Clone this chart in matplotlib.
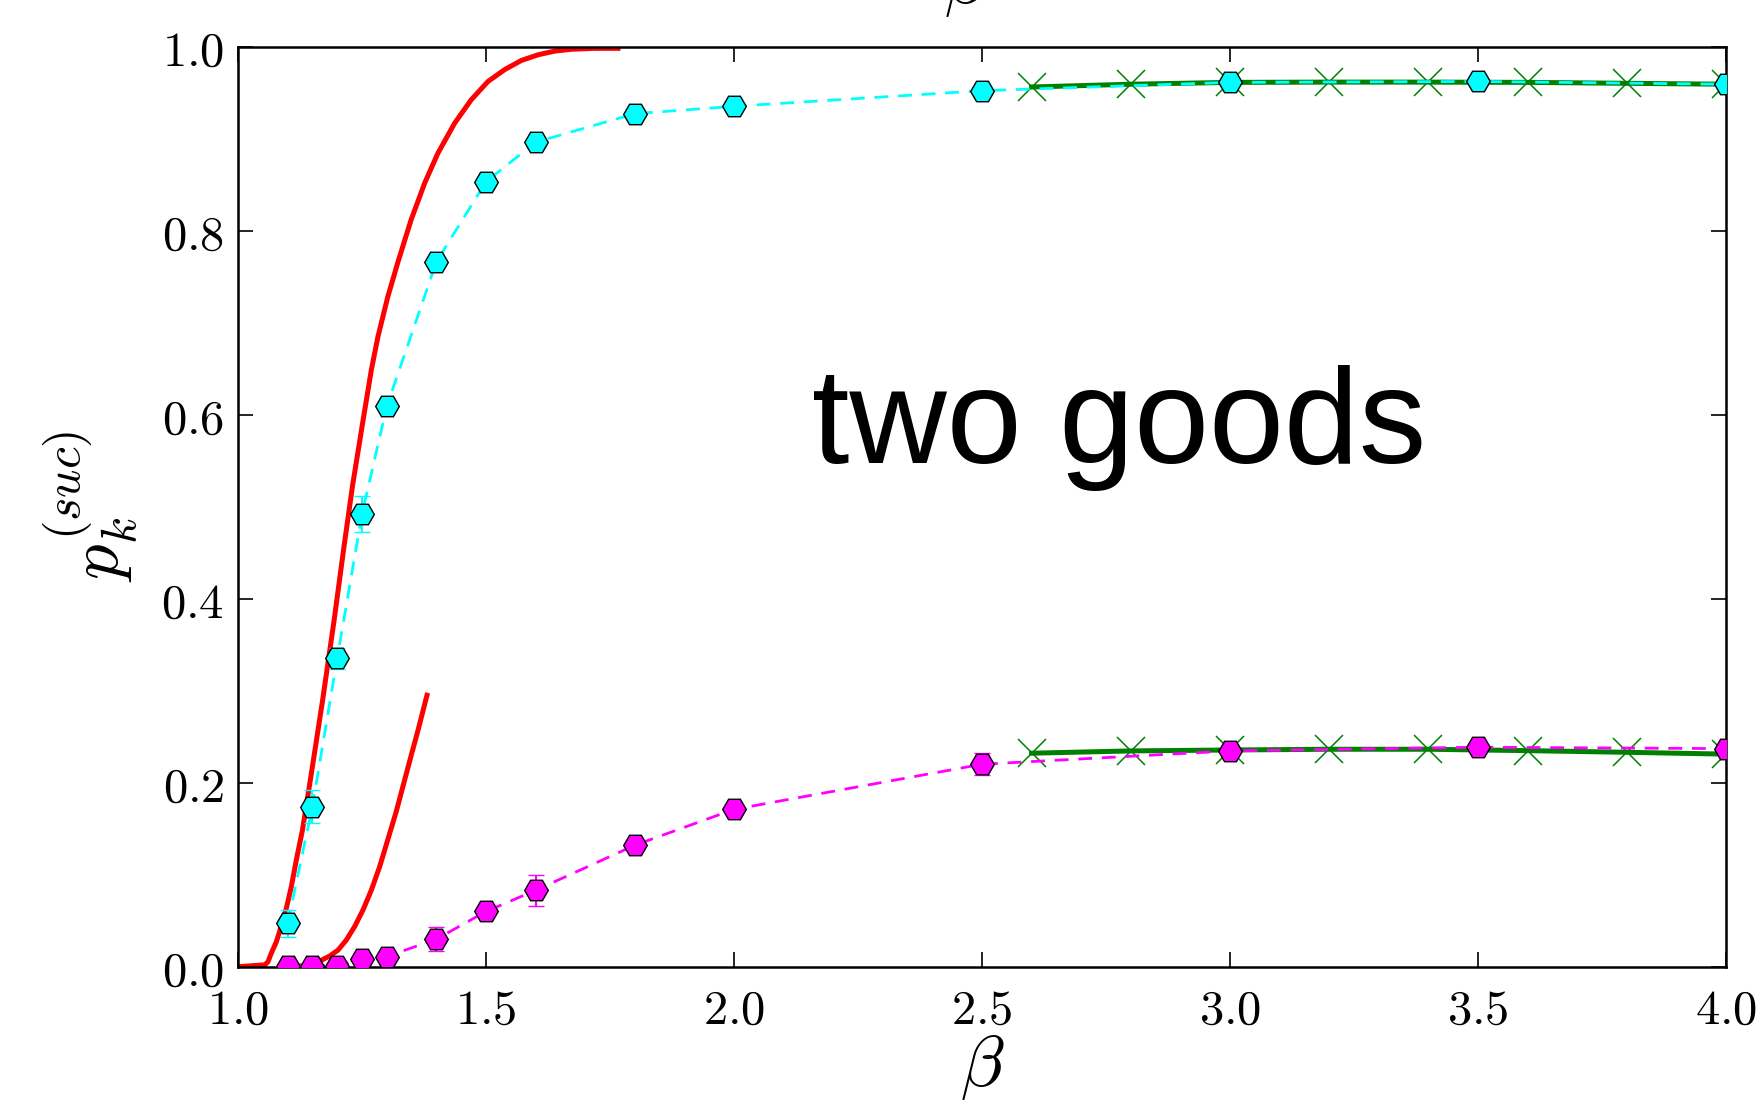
import matplotlib
matplotlib.use("Agg")
import matplotlib.pyplot as plt

plt.rcParams['mathtext.fontset'] = 'cm'
plt.rcParams['lines.scale_dashes'] = False

# ---------------- data ----------------
beta_sim = [1.1, 1.15, 1.2, 1.25, 1.3, 1.4, 1.5, 1.6, 1.8, 2.0, 2.5, 3.0, 3.5, 4.0]
p1_sim = [0.047, 0.174, 0.335, 0.492, 0.609, 0.766, 0.853, 0.896, 0.927, 0.935, 0.952, 0.961, 0.962, 0.959]
p1_err = [0.015, 0.018, 0.011, 0.020, 0.008, 0.006, 0.005, 0.004, 0.004, 0.004, 0.004, 0.003, 0.003, 0.003]
p2_sim = [0.001, 0.001, 0.001, 0.008, 0.011, 0.030, 0.060, 0.083, 0.132, 0.171, 0.220, 0.2345, 0.2385, 0.237]
p2_err = [0.002, 0.002, 0.002, 0.003, 0.004, 0.013, 0.006, 0.017, 0.006, 0.006, 0.012, 0.005, 0.005, 0.005]

beta_th = [2.6, 2.8, 3.0, 3.2, 3.4, 3.6, 3.8, 4.0]
p1_th = [0.956, 0.959, 0.961, 0.9613, 0.9613, 0.961, 0.960, 0.959]
p2_th = [0.232, 0.2345, 0.2355, 0.2363, 0.2363, 0.2348, 0.233, 0.231]

beta_red1 = [1.0, 1.054, 1.0605, 1.067, 1.0773, 1.087, 1.0974, 1.1075, 1.1176, 1.130, 1.149,
             1.1707, 1.1939, 1.2137, 1.231, 1.251, 1.269, 1.2823, 1.302, 1.3226, 1.349,
             1.3763, 1.403, 1.4368, 1.470, 1.504, 1.538, 1.5712, 1.605, 1.6385, 1.672,
             1.719, 1.766]
p_red1 = [0.0, 0.002, 0.0054, 0.0145, 0.027, 0.0435, 0.0635, 0.087, 0.116, 0.1486, 0.2138,
          0.290, 0.377, 0.4565, 0.523, 0.590, 0.649, 0.685, 0.728, 0.766, 0.8116,
          0.8515, 0.884, 0.9167, 0.942, 0.962, 0.975, 0.9848, 0.991, 0.995, 0.997,
          0.998, 0.998]
beta_red2 = [1.10, 1.13, 1.15, 1.168, 1.1848, 1.2016, 1.2184, 1.235, 1.252, 1.269, 1.2856,
             1.302, 1.319, 1.336, 1.3494, 1.363, 1.381]
p_red2 = [0.0, 0.001, 0.003, 0.007, 0.0116, 0.018, 0.029, 0.0435, 0.0616, 0.0834, 0.1087,
          0.138, 0.1685, 0.203, 0.230, 0.257, 0.295]

xticks = [1.0, 1.5, 2.0, 2.5, 3.0, 3.5, 4.0]
xticklabels = ['$1.0$', '$1.5$', '$2.0$', '$2.5$', '$3.0$', '$3.5$', '$4.0$']
yticks = [0.0, 0.2, 0.4, 0.6, 0.8, 1.0]
yticklabels = ['$0.0$', '$0.2$', '$0.4$', '$0.6$', '$0.8$', '$1.0$']

# ---------------- figure ----------------
fig = plt.figure(figsize=(17.57, 11.03), dpi=100)
ax = fig.add_axes([238/1757, 1 - 966.7/1103, (1726-238)/1757, (966.7-46.5)/1103])

ax.plot(beta_red1, p_red1, color='#ff0000', lw=3.6, zorder=2, solid_joinstyle='round')
ax.plot(beta_red2, p_red2, color='#ff0000', lw=3.6, zorder=2, solid_joinstyle='round')

for yy in (p1_th, p2_th):
    ax.plot(beta_th, yy, color='#008000', lw=3.6, marker='x', ms=20, mew=1.1,
            mec='#008000', zorder=3)

common = dict(fmt='H', ms=17, mec='black', mew=1.0, capsize=6, elinewidth=1.5,
              capthick=1.5, lw=2, linestyle=(0, (10, 7)), zorder=4)
ax.errorbar(beta_sim, p1_sim, yerr=p1_err, color='#00ffff', mfc='#00ffff', ecolor='#00ffff', **common)
ax.errorbar(beta_sim, p2_sim, yerr=p2_err, color='#ff00ff', mfc='#ff00ff', ecolor='#ff00ff', **common)

ax.set_xlim(1.0, 4.0)
ax.set_ylim(0.0, 1.0)
ax.set_xticks(xticks)
ax.set_xticklabels(xticklabels)
ax.set_yticks(yticks)
ax.set_yticklabels(yticklabels)
ax.tick_params(direction='in', length=11, width=1.2, top=True, right=True,
               labelsize=35, pad=10)
ax.tick_params(axis='x', pad=14)
for s in ax.spines.values():
    s.set_linewidth(1.8)

ax.set_xlabel(r'$\beta$', fontsize=52)
ax.xaxis.set_label_coords(0.5, -0.072)
ax.set_ylabel(r'$p_k^{(suc)}$', fontsize=51)
ax.yaxis.set_label_coords(-0.066, 0.5)

ax.text(2.157, 0.5475, 'two goods', fontsize=97, family='Liberation Sans',
        ha='left', va='baseline')

# partially visible label of the panel above
fig.text(966/1757, 1 - 3/1103, r'$\beta$', fontsize=52, ha='center', va='baseline')

fig.savefig('out.png', dpi=100)
